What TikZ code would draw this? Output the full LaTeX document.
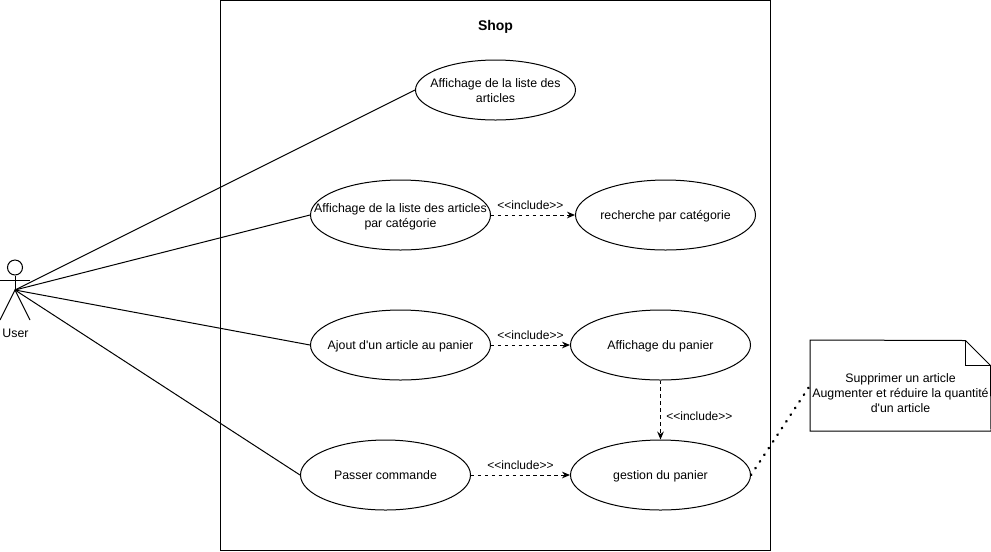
\documentclass[tikz,border=0pt]{standalone}
\usepackage{fontspec}
\setmainfont{Liberation Sans}[Ligatures=TeXOff]
\usetikzlibrary{arrows.meta,shapes.geometric}
\newcommand{\uctext}[2][-1.2pt]{\makebox[0pt]{\raisebox{#1}[\height][\depth]{\begin{tabular}{@{}c@{}}#2\end{tabular}}}}
\tikzset{
    usecase/.style={draw,ellipse,inner sep=0pt,align=center,font=\fontsize{9.25}{11.25}\selectfont},
    lbl/.style={font=\fontsize{9}{11}\selectfont,inner sep=1pt},
    incl/.style={dash pattern=on 2.6pt off 2.6pt,-{Stealth[length=6pt,width=5pt]}},
}
\begin{document}
\begin{tikzpicture}[x=0.75pt,y=-0.75pt,line width=0.75pt]
            \useasboundingbox (0,0) rectangle (991,551);
            \node[draw,minimum width=412.5pt,minimum height=412.5pt,inner sep=0pt] (shop) at (495.5,275) {};
            \node[font=\fontsize{10.5}{12}\selectfont\bfseries] (title) at (495.5,27) {Shop};
            % actor
            \node[draw,circle,minimum size=11.25pt,inner sep=0pt] (head) at (15,267.5) {};
            \coordinate (hip) at (15,290);
            \coordinate (armL) at (0,280);
            \coordinate (armR) at (30,280);
            \coordinate (footL) at (0,320);
            \coordinate (footR) at (30,320);
            \draw (head.south) -- (hip);
            \draw (armL) -- (armR);
            \draw (footL) -- (hip) -- (footR);
            \node[font=\fontsize{9.25}{12}\selectfont,inner sep=0pt] (user) at (15.5,333) {User};
            % use cases
            \node[usecase,minimum width=120pt,minimum height=45pt] (liste) at (495.5,90) {\uctext{Affichage de la liste des\\articles}};
            \node[usecase,minimum width=135pt,minimum height=52.5pt] (cat) at (400.5,215) {\uctext{Affichage de la liste des articles\\par catégorie}};
            \node[usecase,minimum width=135pt,minimum height=52.5pt] (rech) at (665.5,215) {\uctext{recherche par catégorie}};
            \node[usecase,minimum width=135pt,minimum height=52.5pt] (ajout) at (400.5,345) {\uctext{Ajout d'un article au panier}};
            \node[usecase,minimum width=135pt,minimum height=52.5pt] (panier) at (660.5,345) {\uctext{Affichage du panier}};
            \node[usecase,minimum width=127.5pt,minimum height=52.5pt] (cmd) at (385.5,475) {\uctext{Passer commande}};
            \node[usecase,minimum width=135pt,minimum height=52.5pt] (gestion) at (660.5,475) {\uctext{gestion du panier}};
            % note
            \node[minimum width=135pt,minimum height=67.5pt,inner sep=0pt,align=center,font=\fontsize{9.25}{11.25}\selectfont] (note) at (900.5,385.5) {\uctext[-7pt]{Supprimer un article\\Augmenter et réduire la quantité\\d'un article}};
            \coordinate (foldA) at (965.5,340.5);
            \coordinate (foldB) at (990.5,365.5);
            \coordinate (foldC) at (965.5,365.5);
            \draw (note.north west) -- (foldA) -- (foldB) -- (note.south east) -- (note.south west) -- cycle;
            \draw (foldA) -- (foldC) -- (foldB);
            % connectors
            \draw (hip) -- (liste.west);
            \draw (hip) -- (cat.west);
            \draw (hip) -- (ajout.west);
            \draw (hip) -- (cmd.west);
            \draw[incl] (cat.east) -- (rech.west) node[lbl,pos=.47,above=3pt] (inclA) {<<include>>};
            \draw[incl] (ajout.east) -- (panier.west) node[lbl,pos=.5,above=3pt] (inclB) {<<include>>};
            \draw[incl] (panier.south) -- (gestion.north) node[lbl,pos=.6,right=3pt] (inclC) {<<include>>};
            \draw[incl] (cmd.east) -- (gestion.west) node[lbl,pos=.5,above=3pt] (inclD) {<<include>>};
            \draw[line width=1.875pt,line cap=round,dash pattern=on 0.4pt off 5.6pt] (gestion.east) -- (note.west);
        \end{tikzpicture}
\end{document}
